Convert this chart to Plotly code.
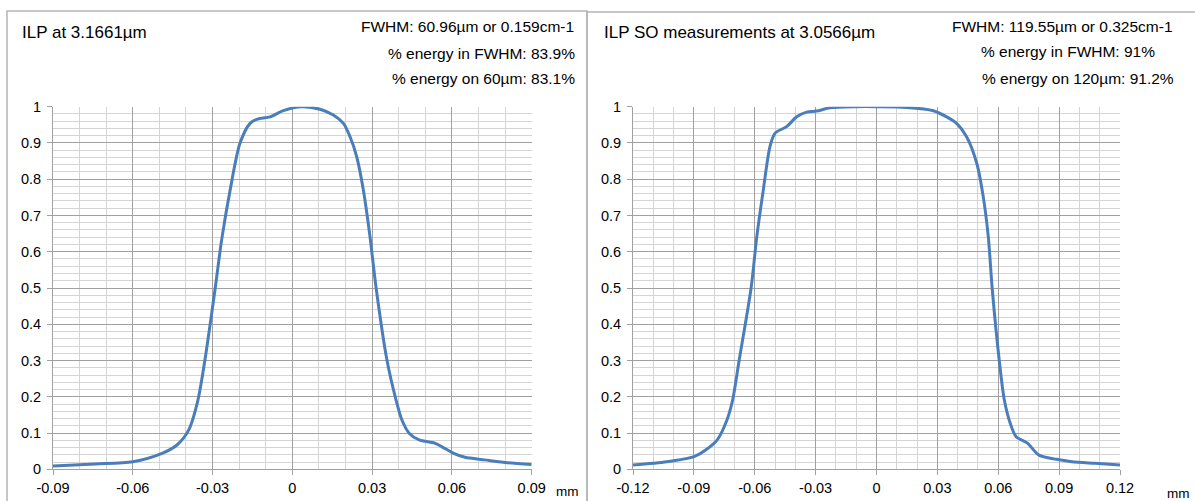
import plotly.graph_objects as go

# ---------------- data ----------------
left_x = [-0.09, -0.074, -0.06, -0.049, -0.0434, -0.039, -0.0355, -0.0329, -0.029, -0.0266,
          -0.0234, -0.0197, -0.0159, -0.0134, -0.0084, -0.0034, 0.0035, 0.0104, 0.0154,
          0.0192, 0.0217, 0.0242, 0.0267, 0.0292, 0.0315, 0.0356, 0.039, 0.0412, 0.044,
          0.0477, 0.0535, 0.0563, 0.0607, 0.0649, 0.0723, 0.081, 0.09]
left_y = [0.009, 0.0146, 0.021, 0.044, 0.067, 0.108, 0.191, 0.30, 0.50, 0.632,
          0.77, 0.899, 0.954, 0.965, 0.972, 0.989, 1.0, 0.993, 0.977,
          0.954, 0.917, 0.862, 0.77, 0.641, 0.50, 0.30, 0.191, 0.136, 0.099,
          0.081, 0.072, 0.062, 0.044, 0.033, 0.026, 0.018, 0.013]

right_x = [-0.12, -0.1033, -0.0899, -0.0842, -0.0785, -0.0737, -0.0709, -0.0677, -0.0618,
           -0.059, -0.0558, -0.0525, -0.050, -0.0443, -0.0393, -0.0344, -0.0295, -0.0229,
           -0.0098, 0.0002, 0.0149, 0.028, 0.0346, 0.0395, 0.0444, 0.0494, 0.0526, 0.0551,
           0.057, 0.0605, 0.063, 0.0659, 0.0688, 0.0744, 0.0801, 0.0887, 0.0963, 0.1077, 0.12]
right_y = [0.012, 0.021, 0.035, 0.053, 0.081, 0.136, 0.191, 0.30, 0.50,
           0.641, 0.77, 0.89, 0.927, 0.945, 0.972, 0.985, 0.988, 0.997,
           1.0, 1.0, 0.998, 0.989, 0.972, 0.954, 0.917, 0.844, 0.752, 0.641,
           0.50, 0.30, 0.191, 0.127, 0.090, 0.072, 0.039, 0.0275, 0.021, 0.0165, 0.012]

left_ticks = [-0.09, -0.06, -0.03, 0, 0.03, 0.06, 0.09]
left_ticktext = ["-0.09", "-0.06", "-0.03", "0", "0.03", "0.06", "0.09"]
right_ticks = [-0.12, -0.09, -0.06, -0.03, 0, 0.03, 0.06, 0.09, 0.12]
right_ticktext = ["-0.12", "-0.09", "-0.06", "-0.03", "0", "0.03", "0.06", "0.09", "0.12"]
y_ticks = [0, 0.1, 0.2, 0.3, 0.4, 0.5, 0.6, 0.7, 0.8, 0.9, 1]
y_ticktext = ["0", "0.1", "0.2", "0.3", "0.4", "0.5", "0.6", "0.7", "0.8", "0.9", "1"]

left_title = "ILP at 3.1661µm"
left_info = ["FWHM: 60.96µm or 0.159cm-1", "% energy in FWHM: 83.9%", "% energy on 60µm: 83.1%"]
right_title = "ILP SO measurements at 3.0566µm"
right_info = ["FWHM: 119.55µm or 0.325cm-1", "% energy in FWHM: 91%", "% energy on 120µm: 91.2%"]
unit_label = "mm"

# ---------------- layout helpers ----------------
W, H = 1195, 501
FONT = "Liberation Sans, Arial, sans-serif"
BLUE = "#4a7ebb"
MAJOR = "#a0a0a0"
MINOR = "#d4d4d4"
TICK_SIZE = 14.5


def px(x):
    return x / W


def py(y):
    return 1 - y / H


fig = go.Figure()
fig.add_trace(go.Scatter(x=left_x, y=left_y, mode="lines", xaxis="x", yaxis="y",
                         line=dict(color=BLUE, width=3, shape="spline", smoothing=0.8),
                         showlegend=False, hoverinfo="skip"))
fig.add_trace(go.Scatter(x=right_x, y=right_y, mode="lines", xaxis="x2", yaxis="y2",
                         line=dict(color=BLUE, width=3, shape="spline", smoothing=0.8),
                         showlegend=False, hoverinfo="skip"))

ydom = [py(469.3), py(106.7)]


def xaxis_cfg(dom, rng, ticks, text, anchor):
    return dict(domain=dom, range=rng, anchor=anchor, tickvals=ticks, ticktext=text,
                automargin=False,
                showgrid=True, gridcolor=MAJOR, gridwidth=1, zeroline=False,
                showline=True, linecolor=MAJOR, linewidth=1,
                ticks="outside", ticklen=5, tickcolor=MAJOR,
                tickfont=dict(family=FONT, size=TICK_SIZE, color="#000"),
                minor=dict(dtick=0.01, tick0=0, showgrid=True, gridcolor=MINOR, gridwidth=1),
                fixedrange=True)


def yaxis_cfg(anchor):
    return dict(domain=ydom, range=[0, 1], anchor=anchor, tickvals=y_ticks, ticktext=y_ticktext,
                automargin=False, ticklabelstandoff=3,
                showgrid=True, gridcolor=MAJOR, gridwidth=1, zeroline=False,
                showline=True, linecolor=MAJOR, linewidth=1,
                ticks="outside", ticklen=5, tickcolor=MAJOR,
                tickfont=dict(family=FONT, size=TICK_SIZE, color="#000"),
                minor=dict(dtick=0.02, tick0=0, showgrid=True, gridcolor=MINOR, gridwidth=1),
                fixedrange=True)


annotations = []


def text(x, y, s, anchor, size):
    annotations.append(dict(x=px(x), y=py(y), xref="paper", yref="paper", text=s,
                            showarrow=False, xanchor=anchor, yanchor="middle",
                            font=dict(family=FONT, size=size, color="#000")))


text(20, 32, left_title, "left", 17)
for yy, xe, s in zip([27, 53, 78], [576, 577, 577], left_info):
    text(xe, yy, s, "right", 15.5)
text(602, 32, right_title, "left", 17)
for yy, xe, s in zip([27, 52, 78], [1175, 1157, 1176], right_info):
    text(xe, yy, s, "right", 15.5)
text(567, 491, unit_label, "center", 13.5)
text(1178, 493, unit_label, "center", 13.5)

shapes = [
    dict(type="rect", xref="paper", yref="paper", x0=px(7), x1=px(587), y0=py(530), y1=py(11),
         line=dict(color="#b5b5b5", width=1.5), layer="below"),
    dict(type="rect", xref="paper", yref="paper", x0=px(587), x1=px(1220), y0=py(530), y1=py(12),
         line=dict(color="#b5b5b5", width=1.5), layer="below"),
]

fig.update_layout(
    width=W, height=H, autosize=False,
    margin=dict(l=0, r=0, t=0, b=0, autoexpand=False),
    paper_bgcolor="white", plot_bgcolor="white",
    xaxis=xaxis_cfg([px(53), px(531.7)], [-0.09, 0.09], left_ticks, left_ticktext, "y"),
    yaxis=yaxis_cfg("x"),
    xaxis2=xaxis_cfg([px(633), px(1120)], [-0.12, 0.12], right_ticks, right_ticktext, "y2"),
    yaxis2=yaxis_cfg("x2"),
    annotations=annotations,
    shapes=shapes,
    showlegend=False,
)

fig.write_html(
    "out.html",
    config={"displayModeBar": False, "staticPlot": True},
    post_script="document.documentElement.style.margin='0';document.body.style.margin='0';"
                "document.body.style.padding='0';document.body.style.overflow='hidden';",
)
